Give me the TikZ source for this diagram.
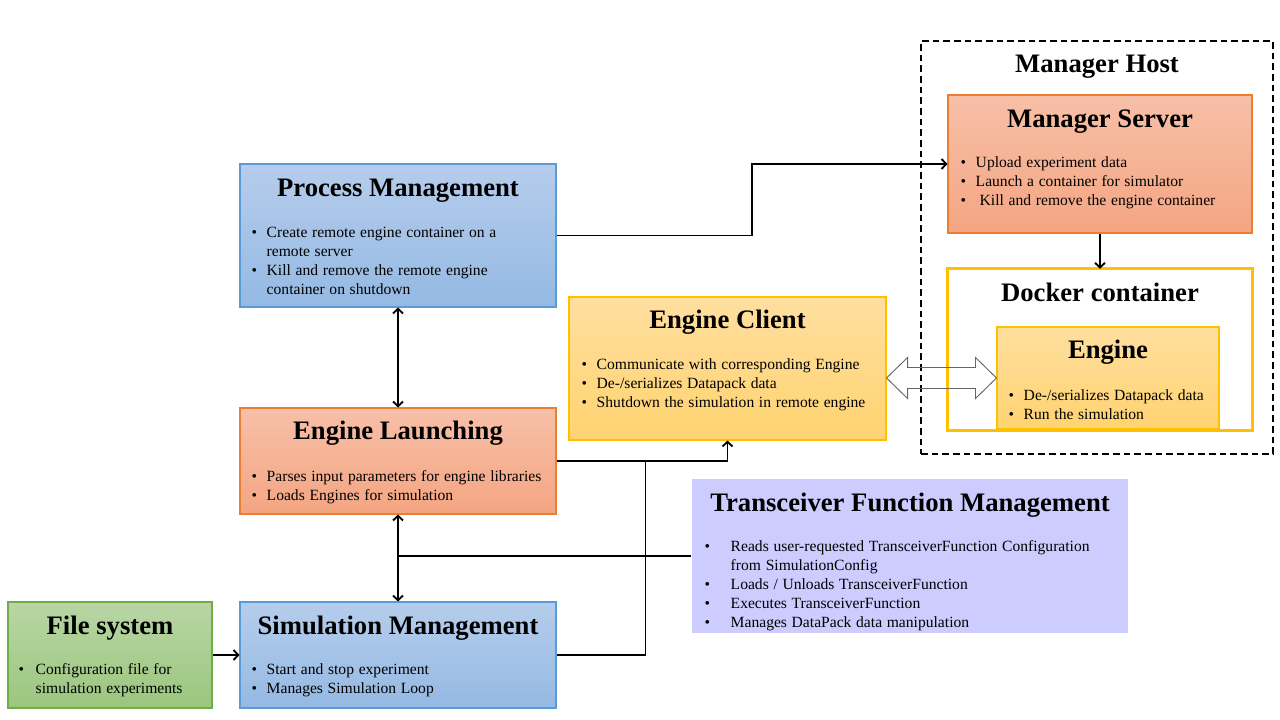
\documentclass[tikz,border=0pt]{standalone}
\usepackage{fontspec}
\setmainfont{Liberation Serif}
\usetikzlibrary{arrows.meta,calc,fit}
\newlength\pxu \setlength\pxu{0.75pt}
\newcommand\bitem[2]{\par\noindent\hangindent=#1\hangafter=1\makebox[#1][l]{\textbullet}\ignorespaces#2}
\newcommand\blist[1]{\parbox[t]{420\pxu}{\fontsize{11.7}{14.25}\selectfont\spaceskip=0.3em plus 0.1em #1}}
\definecolor{blueT}{RGB}{182,205,236}
\definecolor{blueB}{RGB}{148,185,227}
\definecolor{blueD}{RGB}{91,155,213}
\definecolor{orT}{RGB}{247,192,168}
\definecolor{orB}{RGB}{244,165,130}
\definecolor{orD}{RGB}{237,125,49}
\definecolor{yeT}{RGB}{255,223,160}
\definecolor{yeB}{RGB}{255,211,112}
\definecolor{yeD}{RGB}{255,192,0}
\definecolor{grT}{RGB}{184,214,165}
\definecolor{grB}{RGB}{155,198,126}
\definecolor{grD}{RGB}{112,173,71}
\definecolor{lav}{RGB}{204,204,255}
\tikzset{
  box/.style={inner sep=0pt, line width=0.8pt},
  bluebox/.style={box, draw=blueD, top color=blueT, bottom color=blueB},
  orbox/.style={box, draw=orD, top color=orT, bottom color=orB},
  yebox/.style={box, draw=yeD, top color=yeT, bottom color=yeB},
  grbox/.style={box, draw=grD, top color=grT, bottom color=grB},
  lavbox/.style={box, fill=lav},
  ttl/.style={inner sep=0pt, anchor=base, font=\bfseries\fontsize{20}{24}\selectfont},
  bl/.style={inner sep=0pt, anchor=base west},
  conn/.style={line width=1.4pt, >={Straight Barb[length=3.5pt,width=7.5pt]}},
  dbl/.style={draw=black!60, line width=0.7pt},
}
\begin{document}
\begin{tikzpicture}[x=0.75pt,y=-0.75pt]
\useasboundingbox (0,0) rectangle (1280,720);

% Manager host
\node[fit={(921,41) (1273,454)}, inner sep=0pt, draw, dashed, line width=1.4pt, dash pattern=on 5pt off 3pt] (mh) {};
\node[ttl] (mht) at ($(mh.north)+(0,32)$) {Manager Host};

% boxes
\node[fit={(240,164) (556,307)}, bluebox] (pm) {};
\node[fit={(240,408) (556,514)}, orbox] (el) {};
\node[fit={(240,602) (556,708)}, bluebox] (sm) {};
\node[fit={(8,602) (212,708)}, grbox] (fs) {};
\node[fit={(569,297) (886,440)}, yebox] (ec) {};
\node[fit={(692,479) (1128,633)}, lavbox] (tf) {};
\node[fit={(948,95) (1252,233)}, orbox] (ms) {};
\node[fit={(948,269) (1252,430)}, inner sep=0pt, fill=white] (dc) {};
\node[fit={(997,327) (1219,429)}, yebox] (eng) {};
\draw[draw=yeD, line width=2.2pt] (dc.north west) rectangle (dc.south east);

% titles
\node[ttl] (pmt) at ($(pm.north)+(0,33)$) {Process Management};
\node[ttl] (elt) at ($(el.north)+(0,32)$) {Engine Launching};
\node[ttl] (smt) at ($(sm.north)+(0,33)$) {Simulation Management};
\node[ttl] (fst) at ($(fs.north)+(0,33)$) {File system};
\node[ttl] (ect) at ($(ec.north)+(0,32)$) {Engine Client};
\node[ttl] (tft) at ($(tf.north)+(0,33)$) {Transceiver Function Management};
\node[ttl] (mst) at ($(ms.north)+(0,33)$) {Manager Server};
\node[ttl] (dct) at ($(dc.north)+(0,33)$) {Docker container};
\node[ttl] (engt) at ($(eng.north)+(0,32)$) {Engine};

% bullet lists
\node[bl] (pmb) at ($(pm.north west)+(12,74)$) {\blist{%
  \bitem{15\pxu}{Create remote engine container on a\newline remote server}
  \bitem{15\pxu}{Kill and remove the remote engine\newline container on shutdown}}};
\node[bl] (elb) at ($(el.north west)+(12,74)$) {\blist{%
  \bitem{15\pxu}{Parses input parameters for engine libraries}
  \bitem{15\pxu}{Loads Engines for simulation}}};
\node[bl] (smb) at ($(sm.north west)+(12,73)$) {\blist{%
  \bitem{15\pxu}{Start and stop experiment}
  \bitem{15\pxu}{Manages Simulation Loop}}};
\node[bl] (fsb) at ($(fs.north west)+(11,73)$) {\blist{%
  \bitem{17\pxu}{Configuration file for\newline simulation experiments}}};
\node[bl] (ecb) at ($(ec.north west)+(13,73)$) {\blist{%
  \bitem{15\pxu}{Communicate with corresponding Engine}
  \bitem{15\pxu}{De-/serializes Datapack data}
  \bitem{15\pxu}{Shutdown the simulation in remote engine}}};
\node[bl] (tfb) at ($(tf.north west)+(13,73)$) {\blist{%
  \bitem{26\pxu}{Reads user-requested TransceiverFunction Configuration\newline from SimulationConfig}
  \bitem{26\pxu}{Loads / Unloads TransceiverFunction}
  \bitem{26\pxu}{Executes TransceiverFunction}
  \bitem{26\pxu}{Manages DataPack data manipulation}}};
\node[bl] (msb) at ($(ms.north west)+(13,73)$) {\blist{%
  \bitem{15\pxu}{Upload experiment data}
  \bitem{15\pxu}{Launch a container for simulator}
  \bitem{15\pxu}{\hspace{4\pxu}Kill and remove the engine container}}};
\node[bl] (engb) at ($(eng.north west)+(12,74)$) {\blist{%
  \bitem{15\pxu}{De-/serializes Datapack data}
  \bitem{15\pxu}{Run the simulation}}};

% connectors
\coordinate (j1) at ($(pm.east)!0.5!(ms.west)$);
\draw[conn,->] (pm.east) -- (pm.east -| j1) |- (ms.west);
\draw[conn,->] (ms.south) -- (dc.north);
\draw[conn,<->] (pm.south) -- (el.north);
\draw[conn,<->] (el.south) -- (sm.north);
\draw[conn] (tf.west) -- (tf.west -| el.south);
\draw[conn,->] (el.east) -| (ec.south);
\coordinate (j3) at ($(el.east)+(89,0)$);
\draw[conn] (sm.east) -- (sm.east -| j3) -- (j3);
\draw[conn,->] (fs.east) -- (sm.west);

% double block arrow
\coordinate (L) at (ec.east |- eng.west);
\coordinate (R) at (eng.west);
\draw[dbl] (L) -- ($(L)+(21,-20.5)$) -- ($(L)+(21,-10.5)$) -- ($(R)+(-21,-10.5)$) -- ($(R)+(-21,-20.5)$) -- (R)
  -- ($(R)+(-21,20.5)$) -- ($(R)+(-21,10.5)$) -- ($(L)+(21,10.5)$) -- ($(L)+(21,20.5)$) -- cycle;
\end{tikzpicture}
\end{document}
